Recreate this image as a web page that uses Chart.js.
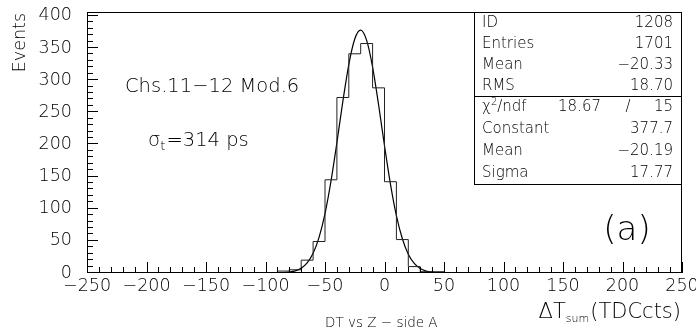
<!DOCTYPE html>
<html><head><meta charset="utf-8">
<script src="https://cdn.jsdelivr.net/npm/chart.js@4.4.0/dist/chart.umd.min.js"></script>
<style>html,body{margin:0;padding:0;background:#fff;}canvas{display:block;}</style>
</head><body>
<canvas id="c" width="696" height="331"></canvas>
<script>
// ---- data ----
const binLow = [-100,-90,-80,-70,-60,-50,-40,-30,-20,-10,0,10,20,30,40,50];
const counts = [0,3,5,20,49,145,273,341,357,288,142,52,10,2,2,0];
const fitX = [-90,-85,-80,-75,-70,-65,-60,-55,-50,-45,-40,-35,-30,-25,-20,-15,-10,-5,0,5,10,15,20,25,30,35,40,45,50];
const fitY = [0.2,0.5,1.3,3.2,7.4,15.7,30.7,55.5,92.5,142.5,202.9,266.9,324.3,364.1,377.7,361.9,320.4,262.1,198.1,138.3,89.2,53.2,29.3,14.9,7.0,3.0,1.2,0.4,0.15];
const xTickValues = [-250,-200,-150,-100,-50,0,50,100,150,200,250];
const yTickValues = [0,50,100,150,200,250,300,350,400];
const statsTop = [["ID","1208"],["Entries","1701"],["Mean","\u221220.33"],["RMS","18.70"]];
const fitStats = [["Constant","377.7"],["Mean","\u221220.19"],["Sigma","17.77"]];
const chi2 = "18.67", ndf = "15";

const FAM = '"DejaVu Sans", "Liberation Sans", sans-serif';
const W = 200;
const F = s => `${W} ${s}px ${FAM}`;
const fmt = v => (v < 0 ? '\u2212' + Math.abs(v) : String(v));

const histData = [{x:-250,y:0}].concat(binLow.map((x,i)=>({x:x,y:counts[i]}))).concat([{x:250,y:0}]);
const fitData = fitX.map((x,i)=>({x:x,y:fitY[i]}));

const rootPlugin = {
  id: 'root',
  afterDraw(chart) {
    const {ctx, chartArea:a, scales:{x, y}} = chart;
    ctx.save();
    ctx.strokeStyle = '#000'; ctx.fillStyle = '#000'; ctx.lineWidth = 1;
    // tick marks (inward)
    ctx.beginPath();
    for (let v = -250; v <= 250; v += 10) {
      const px = Math.round(x.getPixelForValue(v)) + 0.5;
      const len = v % 50 === 0 ? 11 : 6;
      ctx.moveTo(px, a.bottom); ctx.lineTo(px, a.bottom - len);
    }
    for (let v = 0; v <= 400; v += 10) {
      const py = Math.round(y.getPixelForValue(v)) - 0.5;
      const len = v % 50 === 0 ? 11 : 6;
      ctx.moveTo(a.left, py); ctx.lineTo(a.left + len, py);
    }
    ctx.stroke();
    // frame
    ctx.strokeRect(a.left + 0.5, a.top + 0.5, a.right - a.left - 1, a.bottom - a.top - 1);

    // stats box
    const bx0 = 474.5, bx1 = a.right - 0.5, by0 = a.top + 0.5, bdiv = 96.5, by1 = 184.5;
    ctx.fillStyle = '#fff';
    ctx.fillRect(bx0, by0, bx1 - bx0, by1 - by0);
    ctx.strokeRect(bx0, by0, bx1 - bx0, by1 - by0);
    ctx.beginPath(); ctx.moveTo(bx0, bdiv); ctx.lineTo(bx1, bdiv); ctx.stroke();
    ctx.fillStyle = '#000';
    ctx.font = F(15); ctx.textBaseline = 'middle';
    const lx = 482, rx = 673;
    const topRows = [23.5, 44.5, 65.5, 86];
    statsTop.forEach((r, i) => {
      ctx.textAlign = 'left'; ctx.fillText(r[0], lx, topRows[i]);
      ctx.textAlign = 'right'; ctx.fillText(r[1], rx, topRows[i]);
    });
    const botRows = [107.5, 129.5, 151.5, 173];
    // chi2 row
    ctx.textAlign = 'left';
    ctx.fillText('\u03C7', lx, botRows[0]);
    let cw = ctx.measureText('\u03C7').width;
    ctx.font = F(10); ctx.fillText('2', lx + cw, botRows[0] - 5);
    let c2 = ctx.measureText('2').width;
    ctx.font = F(15); ctx.fillText('/ndf', lx + cw + c2, botRows[0]);
    ctx.textAlign = 'right';
    ctx.fillText(chi2, 601, botRows[0]);
    ctx.textAlign = 'center'; ctx.fillText('/', 628, botRows[0]);
    ctx.textAlign = 'right'; ctx.fillText(ndf, rx, botRows[0]);
    fitStats.forEach((r, i) => {
      ctx.textAlign = 'left'; ctx.fillText(r[0], lx, botRows[i + 1]);
      ctx.textAlign = 'right'; ctx.fillText(r[1], rx, botRows[i + 1]);
    });

    // annotations
    ctx.textAlign = 'left'; ctx.textBaseline = 'alphabetic';
    ctx.font = F(19.5);
    ctx.fillText('Chs.11\u221212 Mod.6', 125, 92);
    let sx = 148;
    ctx.fillText('\u03C3', sx, 146); sx += ctx.measureText('\u03C3').width;
    ctx.font = F(13); ctx.fillText('t', sx, 150); sx += ctx.measureText('t').width + 1;
    ctx.font = F(19.5); ctx.fillText('=314 ps', sx, 146);

    ctx.font = F(34); ctx.textAlign = 'center'; ctx.textBaseline = 'middle';
    ctx.fillText('(a)', 627, 231);

    // axis title x
    ctx.textBaseline = 'alphabetic'; ctx.textAlign = 'left';
    ctx.font = F(21); const w1 = ctx.measureText('\u0394T').width, w3 = ctx.measureText('(TDCcts)').width;
    ctx.font = F(11); const w2 = ctx.measureText('sum').width;
    let tx = 681 - (w1 + w2 + w3 + 1);
    ctx.font = F(21); ctx.fillText('\u0394T', tx, 318); tx += w1;
    ctx.font = F(11); ctx.fillText('sum', tx, 322); tx += w2 + 1;
    ctx.font = F(21); ctx.fillText('(TDCcts)', tx, 318);

    // subtitle
    ctx.font = F(13.5); ctx.textBaseline = 'middle';
    ctx.fillText('DT vs Z \u2212 side A', 325, 323);

    // y axis title
    ctx.save();
    ctx.translate(20, 13); ctx.rotate(-Math.PI / 2);
    ctx.font = F(17.5); ctx.textAlign = 'right'; ctx.textBaseline = 'middle';
    ctx.fillText('Events', 0, 0);
    ctx.restore();
    ctx.restore();
  }
};

new Chart(document.getElementById('c'), {
  type: 'line',
  data: { datasets: [
    { data: histData, stepped: true, borderColor: '#222', borderWidth: 1, pointRadius: 0, fill: false },
    { data: fitData, borderColor: '#000', borderWidth: 1.2, pointRadius: 0, fill: false, cubicInterpolationMode: 'monotone' }
  ]},
  options: {
    responsive: false, devicePixelRatio: 1, animation: false, events: [],
    layout: { padding: { top: 12, right: 14, left: 0, bottom: 0 } },
    plugins: { legend: { display: false }, tooltip: { enabled: false } },
    scales: {
      x: {
        type: 'linear', position: 'bottom', min: -250, max: 250,
        grid: { display: false, drawTicks: false }, border: { display: false },
        afterBuildTicks: s => { s.ticks = xTickValues.map(v => ({ value: v })); },
        ticks: { callback: v => fmt(v), color: '#000', padding: 3, maxRotation: 0, autoSkip: false, font: { family: FAM, size: 17.5, weight: W } },
        afterFit: s => { s.height = 58; s.paddingLeft = 0; s.paddingRight = 0; }
      },
      y: {
        type: 'linear', position: 'left', min: 0, max: 406,
        grid: { display: false, drawTicks: false }, border: { display: false },
        afterBuildTicks: s => { s.ticks = yTickValues.map(v => ({ value: v })); },
        ticks: { callback: v => fmt(v), color: '#000', padding: 15, font: { family: FAM, size: 17.5, weight: W } },
        afterFit: s => { s.width = 87; s.paddingTop = 0; s.paddingBottom = 0; }
      }
    }
  },
  plugins: [rootPlugin]
});
</script>
</body></html>
